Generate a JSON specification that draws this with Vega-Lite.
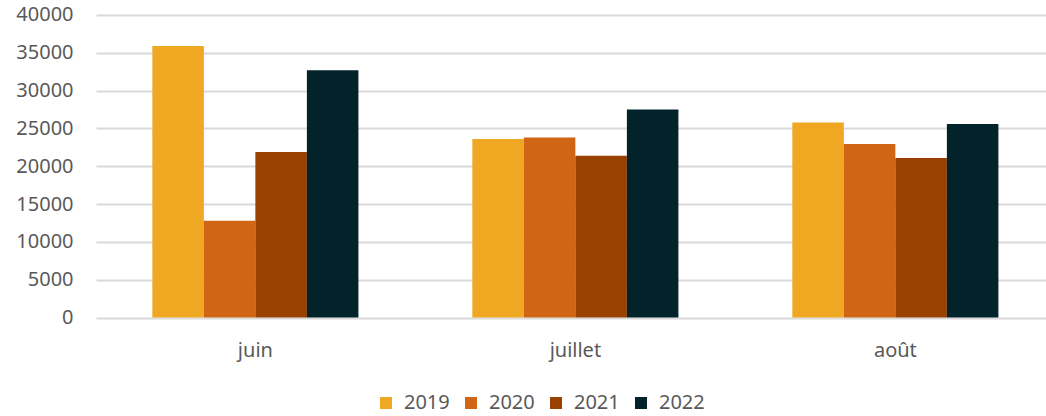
{
  "$schema": "https://vega.github.io/schema/vega-lite/v6.json",
  "width": 950,
  "height": 302.6,
  "autosize": {"type": "none"},
  "padding": {"left": 96, "top": 15, "right": 0, "bottom": 98},
  "background": "white",
  "config": {
    "view": {"stroke": null},
    "font": "Noto Sans",
    "axis": {"labelFont": "Noto Sans", "labelFontSize": 20, "labelColor": "#595959"},
    "legend": {"labelFont": "Noto Sans", "labelFontSize": 20, "labelColor": "#595959"}
  },
  "data": {
    "values": [
      {"mois": "juin", "annee": "2019", "valeur": 35900},
      {"mois": "juin", "annee": "2020", "valeur": 12800},
      {"mois": "juin", "annee": "2021", "valeur": 21900},
      {"mois": "juin", "annee": "2022", "valeur": 32700},
      {"mois": "juillet", "annee": "2019", "valeur": 23600},
      {"mois": "juillet", "annee": "2020", "valeur": 23800},
      {"mois": "juillet", "annee": "2021", "valeur": 21400},
      {"mois": "juillet", "annee": "2022", "valeur": 27500},
      {"mois": "août", "annee": "2019", "valeur": 25800},
      {"mois": "août", "annee": "2020", "valeur": 22950},
      {"mois": "août", "annee": "2021", "valeur": 21100},
      {"mois": "août", "annee": "2022", "valeur": 25600}
    ]
  },
  "mark": {"type": "bar"},
  "encoding": {
    "x": {
      "field": "mois",
      "type": "nominal",
      "sort": ["juin", "juillet", "août"],
      "scale": {"paddingInner": 0.356, "paddingOuter": 0.1624, "align": 0.542},
      "axis": {"title": null, "labelAngle": 0, "domain": false, "ticks": false, "grid": false, "labelPadding": 23}
    },
    "xOffset": {"field": "annee", "type": "nominal", "scale": {"paddingInner": 0, "paddingOuter": 0}},
    "y": {
      "field": "valeur",
      "type": "quantitative",
      "scale": {"domain": [0, 40000], "nice": false},
      "axis": {"title": null, "values": [0, 5000, 10000, 15000, 20000, 25000, 30000, 35000, 40000], "format": "d", "domain": false, "ticks": false, "labelPadding": 23, "gridColor": "#D9D9D9", "gridWidth": 2}
    },
    "color": {
      "field": "annee",
      "type": "nominal",
      "scale": {"domain": ["2019", "2020", "2021", "2022"], "range": ["#F0A722", "#D06515", "#984100", "#012329"]},
      "legend": {
        "title": null,
        "orient": "none",
        "direction": "horizontal",
        "legendX": 280,
        "legendY": 378,
        "symbolType": "square",
        "symbolSize": 144,
        "symbolStrokeWidth": 0,
        "labelOffset": 8,
        "columnPadding": 11
      }
    }
  }
}
